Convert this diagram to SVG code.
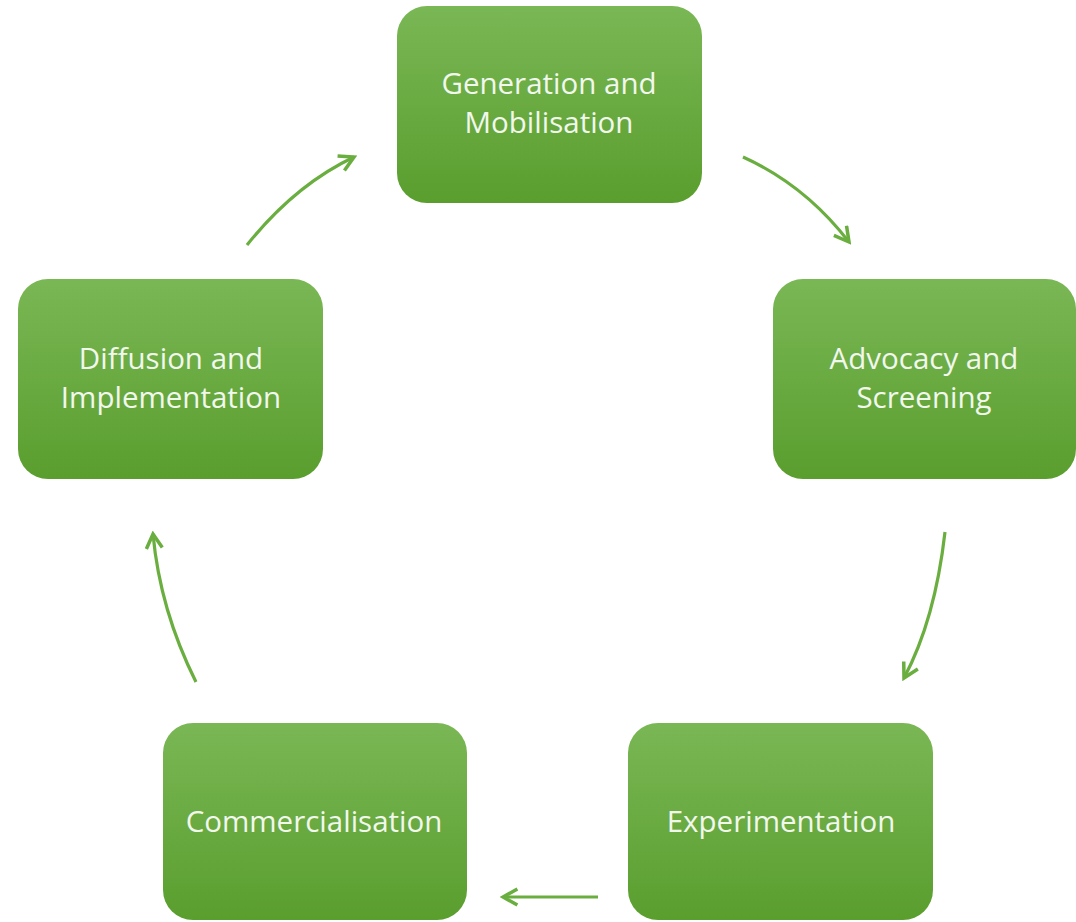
<svg xmlns="http://www.w3.org/2000/svg" width="1076" height="922" viewBox="0 0 1076 922">
<defs>
<linearGradient id="g" x1="0" y1="0" x2="0" y2="1">
<stop offset="0" stop-color="#7ab755"/>
<stop offset="1" stop-color="#5a9e2e"/>
</linearGradient>
<marker id="ah" viewBox="0 0 12 12" refX="10" refY="6" markerWidth="6" markerHeight="6" orient="auto" markerUnits="strokeWidth">
<path d="M1,1 L10,6 L1,11" fill="none" stroke="#6aae40" stroke-width="2.2"/>
</marker>
<style>
.box{fill:url(#g);}
.t{font-family:"Open Sans","Noto Sans",sans-serif;font-size:29.5px;fill:#f2f7ee;text-anchor:middle;}
.c{fill:none;stroke:#6aae40;stroke-width:3.2;marker-end:url(#ah);}
</style>
</defs>
<rect width="1076" height="922" fill="#ffffff"/>
<g id="n1"><rect class="box" x="397" y="6" width="305" height="197" rx="30"/><text class="t" x="549" y="94">Generation and</text><text class="t" x="549" y="133">Mobilisation</text></g>
<g id="n2"><rect class="box" x="773" y="279" width="303" height="200" rx="30"/><text class="t" x="924" y="369">Advocacy and</text><text class="t" x="924" y="408">Screening</text></g>
<g id="n3"><rect class="box" x="628" y="723" width="305" height="197" rx="30"/><text class="t" x="781" y="832">Experimentation</text></g>
<g id="n4"><rect class="box" x="163" y="723" width="304" height="197" rx="30"/><text class="t" x="314" y="832">Commercialisation</text></g>
<g id="n5"><rect class="box" x="18" y="279" width="305" height="200" rx="30"/><text class="t" x="171" y="369">Diffusion and</text><text class="t" x="171" y="408">Implementation</text></g>
<g id="connectors">
<path class="c" d="M743,157 Q805,185 849,242"/>
<path class="c" d="M945,532 Q935,620 904,678"/>
<path class="c" d="M598,897 L503,897"/>
<path class="c" d="M196,682 Q160,610 153,534"/>
<path class="c" d="M247,245 Q295,185 354,157"/>
</g>
</svg>
